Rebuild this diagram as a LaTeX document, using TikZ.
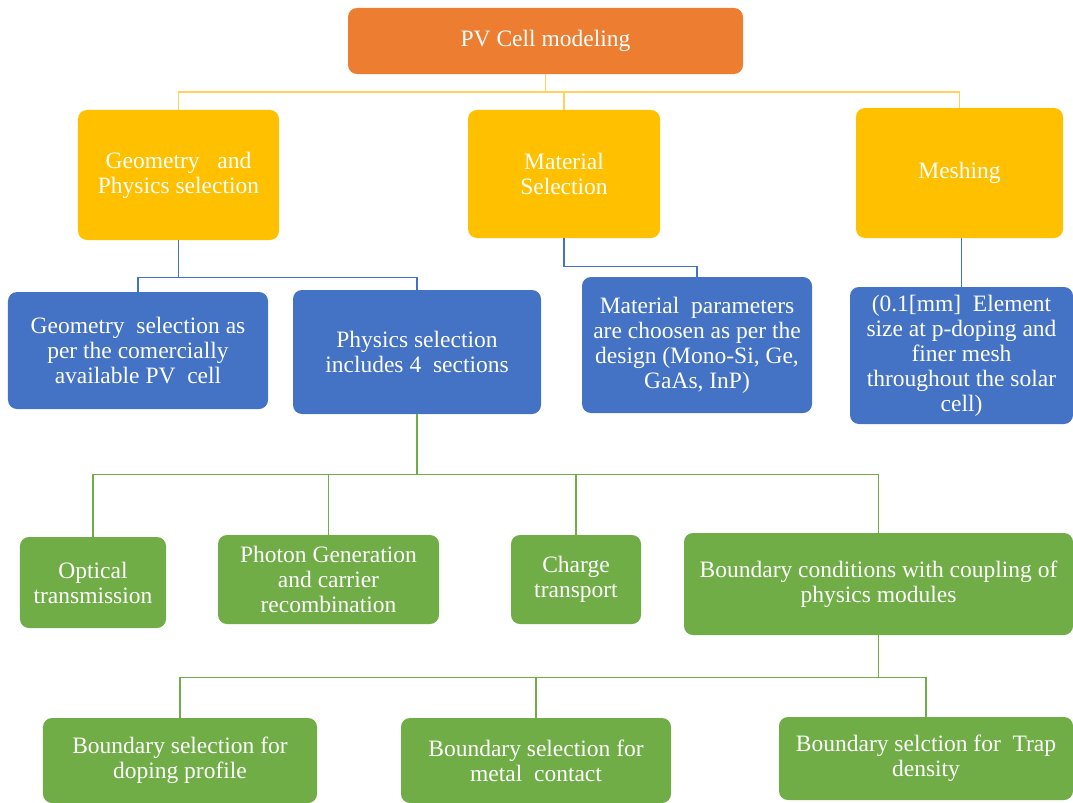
\documentclass[tikz,border=0pt]{standalone}
\usepackage{fontspec}
\setmainfont{Liberation Serif}
\usepackage{xcolor}
\definecolor{pvorange}{RGB}{237,125,49}
\definecolor{pvgold}{RGB}{255,192,0}
\definecolor{pvgoldline}{RGB}{255,210,90}
\definecolor{pvblue}{RGB}{68,114,196}
\definecolor{pvgreen}{RGB}{112,173,71}
\usetikzlibrary{positioning}

\begin{document}
\begin{tikzpicture}[x=1bp,y=-1bp,
  font=\fontsize{23.5bp}{25bp}\selectfont,
  pvbox/.style={rounded corners=9bp,text=white,align=center,inner sep=2bp},
  topbox/.style={pvbox,fill=pvorange},
  goldbox/.style={pvbox,fill=pvgold},
  bluebox/.style={pvbox,fill=pvblue},
  greenbox/.style={pvbox,fill=pvgreen},
  goldline/.style={draw=pvgoldline,line width=1.6bp},
  blueline/.style={draw=pvblue,line width=1.4bp},
  greenline/.style={draw=pvgreen,line width=1.4bp}]
  \useasboundingbox (0,0) rectangle (1073,803);
  % level 0
  \node[topbox,minimum width=395bp,minimum height=66bp] (root) at (545.5,41) {PV Cell modeling};
  % level 1
  \node[goldbox,minimum width=201bp,minimum height=130bp] (geo) at (178.5,175) {Geometry\ \ \ and\\Physics selection};
  \node[goldbox,minimum width=192bp,minimum height=128bp] (mat) at (564,174) {Material\\Selection};
  \node[goldbox,minimum width=207bp,minimum height=130bp] (mesh) at (959.5,173) {Meshing};
  % level 2
  \node[bluebox,minimum width=260bp,minimum height=117bp] (geosel) at (138,350.5) {Geometry\ \ selection as\\per the comercially\\available PV\ \ cell};
  \node[bluebox,minimum width=248bp,minimum height=124bp] (physel) at (417,352) {Physics selection\\includes 4\ \ sections};
  \node[bluebox,minimum width=230bp,minimum height=136bp] (matpar) at (697,345) {Material\ \ parameters\\are choosen as per the\\design (Mono-Si, Ge,\\GaAs, InP)};
  \node[bluebox,minimum width=223bp,minimum height=137bp] (meshpar) at (961.5,355.5) {(0.1[mm]\ \ Element\\size at p-doping and\\finer mesh\\throughout the solar\\cell)};
  % level 3
  \node[greenbox,minimum width=146bp,minimum height=91bp] (optic) at (93,582.5) {Optical\\transmission};
  \node[greenbox,minimum width=221bp,minimum height=89bp] (photon) at (328.5,579.5) {Photon Generation\\and carrier\\recombination};
  \node[greenbox,minimum width=130bp,minimum height=89bp] (charge) at (576,579.5) {Charge\\transport};
  \node[greenbox,minimum width=389bp,minimum height=102bp] (bound) at (878.5,584) {Boundary conditions with coupling of\\physics modules};
  % level 4
  \node[greenbox,minimum width=274bp,minimum height=85bp] (doping) at (180,760.5) {Boundary selection for\\doping profile};
  \node[greenbox,minimum width=270bp,minimum height=85bp] (metal) at (536,760.5) {Boundary selection for\\metal\ \ contact};
  \node[greenbox,minimum width=294bp,minimum height=83bp] (trap) at (926,758.5) {Boundary selction for\ \ Trap\\density};
  % connectors
  \draw[goldline] (root.south) -- ++(0,18) -| (geo.north);
  \draw[goldline] (root.south) -- ++(0,18) -| (mat.north);
  \draw[goldline] (root.south) -- ++(0,18) -| (mesh.north);
  \draw[blueline] (geo.south) -- ++(0,37) -| (geosel.north);
  \draw[blueline] (geo.south) -- ++(0,37) -| (physel.north);
  \draw[blueline] (mat.south) -- ++(0,28) -| (matpar.north);
  \draw[blueline] (meshpar.north |- mesh.south) -- (meshpar.north);
  \foreach \leaf in {optic,photon,charge,bound}
    \draw[greenline] (physel.south) -- ++(0,60) -| (\leaf.north);
  \foreach \leaf in {doping,metal,trap}
    \draw[greenline] (bound.south) -- ++(0,42) -| (\leaf.north);
\end{tikzpicture}
\end{document}
